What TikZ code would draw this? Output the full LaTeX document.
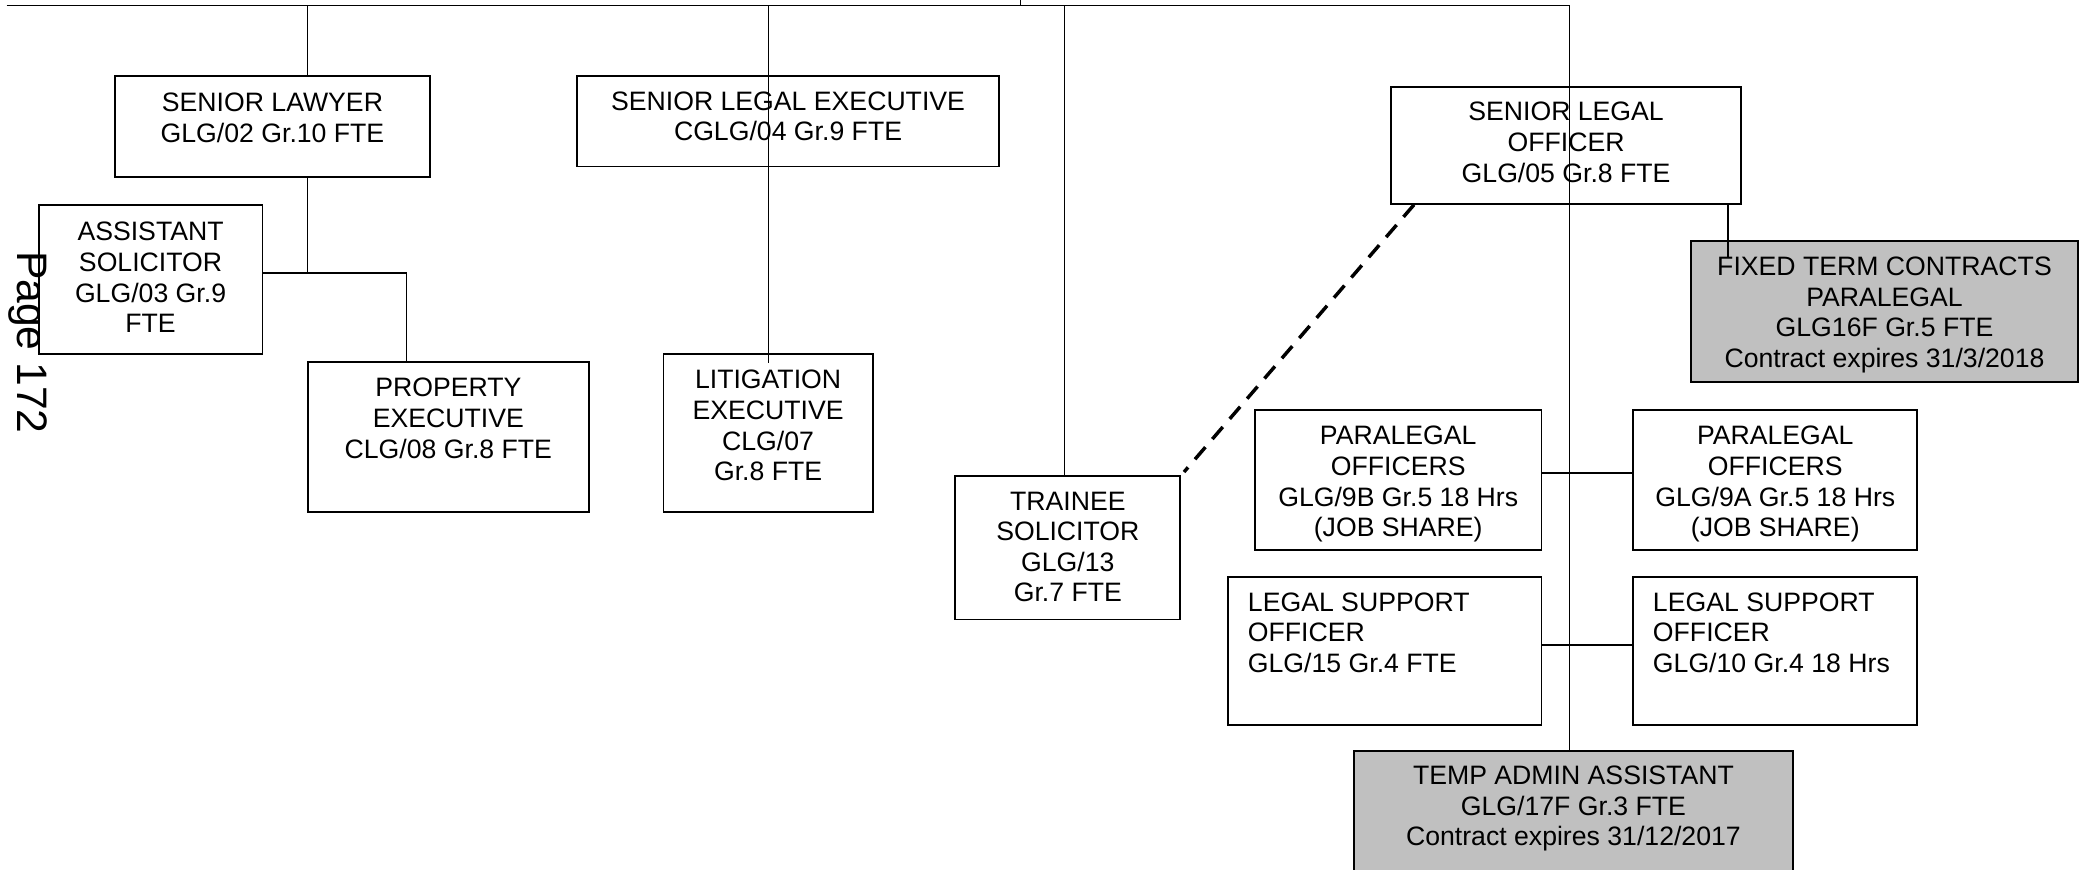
\documentclass[tikz,border=0pt]{standalone}
\usepackage{fontspec}
\setmainfont{Liberation Sans}
\usetikzlibrary{calc,fit}
\definecolor{boxgray}{HTML}{C0C0C0}
\begin{document}
\begin{tikzpicture}[x=0.5pt,y=-0.5pt,
  box/.style={draw=black, line width=0.7pt, inner sep=0pt},
  graybox/.style={box, fill=boxgray},
  lbl/.style={inner sep=0pt, align=center, anchor=north,
    font=\fontsize{10}{11.5}\selectfont},
  lbll/.style={lbl, align=left, anchor=north west},
  conn/.style={line width=0.55pt},
  dashconn/.style={line width=1.3pt, dash pattern=on 6pt off 4pt}]
\clip (0,0) rectangle (1568,653);

% boxes
\node[box, fit={(86,57) (323,133)}] (sl) {};
\node[box, fit={(29,154) (197,266)}] (as) {};
\node[box, fit={(231,272) (442,384)}] (pe) {};
\node[box, fit={(433,57) (750,125)}] (le) {};
\node[box, fit={(498,266) (655,384)}] (li) {};
\node[box, fit={(717,357) (886,465)}] (ts) {};
\node[box, fit={(1044,65) (1307,153)}] (lo) {};
\node[graybox, fit={(1269,181) (1560,287)}] (ft) {};
\node[box, fit={(942,308) (1157,413)}] (pb) {};
\node[box, fit={(1226,308) (1439,413)}] (pa) {};
\node[box, fit={(922,433) (1157,544)}] (sa) {};
\node[box, fit={(1226,433) (1439,544)}] (sb) {};
\node[graybox, fit={(1016,564) (1346,670)}] (ta) {};

% labels
\node[lbl] (sl-t) at ($(sl.north)+(0,11)$) {\strut SENIOR LAWYER\\GLG/02 Gr.10 FTE};
\node[lbl] (as-t) at ($(as.north)+(0,11)$) {\strut ASSISTANT\\SOLICITOR\\GLG/03 Gr.9\\FTE};
\node[lbl] (pe-t) at ($(pe.north)+(0,10)$) {\strut PROPERTY\\EXECUTIVE\\CLG/08 Gr.8 FTE};
\node[lbl] (le-t) at ($(le.north)+(0,10)$) {\strut SENIOR LEGAL EXECUTIVE\\CGLG/04 Gr.9 FTE};
\node[lbl] (li-t) at ($(li.north)+(0,10)$) {\strut LITIGATION\\EXECUTIVE\\CLG/07\\Gr.8 FTE};
\node[lbl] (ts-t) at ($(ts.north)+(0,10)$) {\strut TRAINEE\\SOLICITOR\\GLG/13\\Gr.7 FTE};
\node[lbl] (lo-t) at ($(lo.north)+(0,10)$) {\strut SENIOR LEGAL\\OFFICER\\GLG/05 Gr.8 FTE};
\node[lbl] (ft-t) at ($(ft.north)+(0,10)$) {\strut FIXED TERM CONTRACTS\\PARALEGAL\\GLG16F Gr.5 FTE\\Contract expires 31/3/2018};
\node[lbl] (pb-t) at ($(pb.north)+(0,10)$) {\strut PARALEGAL\\OFFICERS\\GLG/9B Gr.5 18 Hrs\\(JOB SHARE)};
\node[lbl] (pa-t) at ($(pa.north)+(0,10)$) {\strut PARALEGAL\\OFFICERS\\GLG/9A Gr.5 18 Hrs\\(JOB SHARE)};
\node[lbll] (sa-t) at ($(sa.north west)+(15,10)$) {\strut LEGAL SUPPORT\\OFFICER\\GLG/15 Gr.4 FTE};
\node[lbll] (sb-t) at ($(sb.north west)+(15,10)$) {\strut LEGAL SUPPORT\\OFFICER\\GLG/10 Gr.4 18 Hrs};
\node[lbl] (ta-t) at ($(ta.north)+(0,9)$) {\strut TEMP ADMIN ASSISTANT\\GLG/17F Gr.3 FTE\\Contract expires 31/12/2017};

% page number, running down the left margin
\node[rotate=-90, inner sep=0pt, font=\fontsize{16}{19}\selectfont] (pg) at (21,257) {Page 172};

% trunk and drop points
\coordinate (t0) at (5,4);
\coordinate (t1) at (231,4);
\coordinate (t2) at (577,4);
\coordinate (t3) at (799,4);
\coordinate (t4) at (1178,4);
\coordinate (tk) at (766,0);
\coordinate (j1) at (231,205);
\coordinate (j2) at (305,205);
\coordinate (fin) at (1297,193);

% connectors
\draw[conn] (t0) -- (t4) -- (t4 |- ta.north);
\draw[conn] (tk) -- (tk |- t0);
\draw[conn] (t1) -- (t1 |- sl.north);
\draw[conn] (t2) -- ($(t2 |- li.north)+(0,7)$);
\draw[conn] (t3) -- (t3 |- ts.north);
\draw[conn] (j1 |- sl.south) -- (j1);
\draw[conn] (as.east |- j1) -- (j2) -- (j2 |- pe.north);
\draw[conn] (fin |- lo.south) -- (fin);
\draw[conn] ([yshift=2.75pt]pb.east) -- ([yshift=2.75pt]pa.west);
\draw[conn] ([yshift=2.25pt]sa.east) -- ([yshift=2.25pt]sb.west);
\draw[dashconn] ($(lo.south west)+(18,0)$) -- ($(ts.north east)+(2,-2)$);
\end{tikzpicture}
\end{document}
